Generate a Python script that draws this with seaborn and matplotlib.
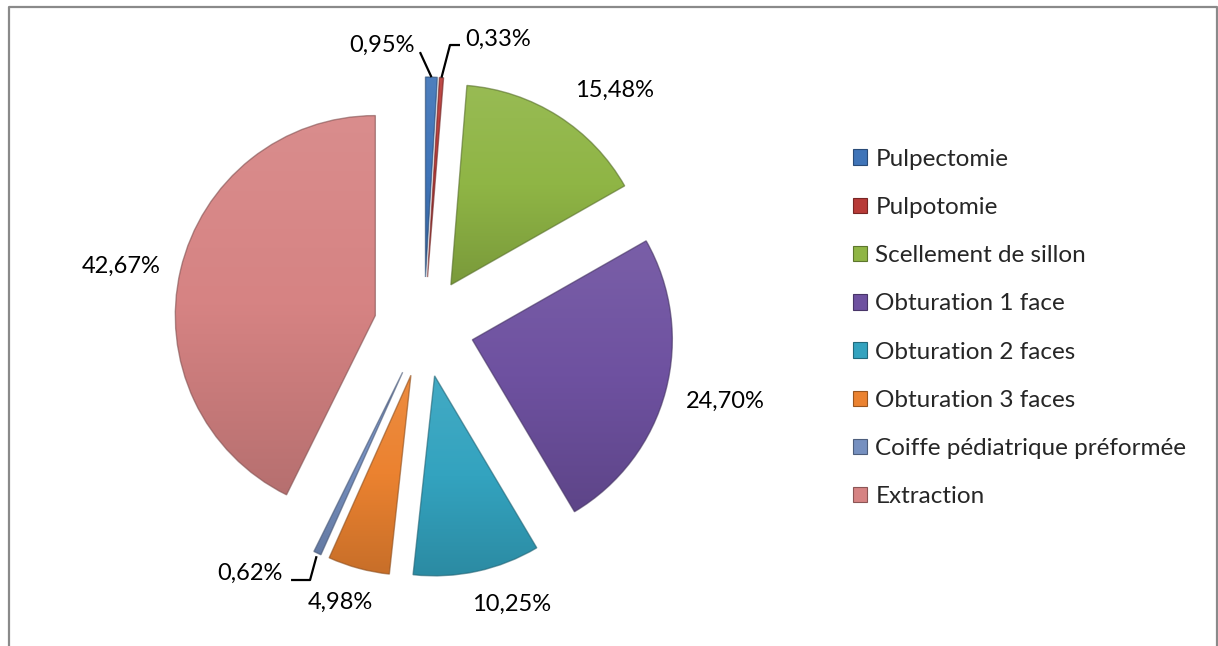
import numpy as np
import matplotlib
matplotlib.use("Agg")
import matplotlib.pyplot as plt
import seaborn as sns
from matplotlib.colors import LinearSegmentedColormap, to_rgb
from matplotlib.patches import Patch
from matplotlib.lines import Line2D

# ---- data ----
categories = ["Pulpectomie", "Pulpotomie", "Scellement de sillon", "Obturation 1 face",
              "Obturation 2 faces", "Obturation 3 faces", "Coiffe pédiatrique préformée",
              "Extraction"]
values = [0.95, 0.33, 15.48, 24.70, 10.25, 4.98, 0.62, 42.67]
value_labels = ["0,95%", "0,33%", "15,48%", "24,70%", "10,25%", "4,98%", "0,62%", "42,67%"]
colors = ["#3F74B8", "#B83B38", "#8FB545", "#6E51A0", "#33A3BF", "#EB8230", "#7690C0", "#D68383"]

sns.set_theme(style="white")
plt.rcParams['font.family'] = ['Lato', 'DejaVu Sans']

W, H = 1218, 646
fig = plt.figure(figsize=(W / 100, H / 100), dpi=100)
ax = fig.add_axes([0, 0, 1, 1])
ax.set_axis_off()

R_PX = 200.0
CX, CY = 424.0, 327.0  # pie centre in pixels (from top-left)
EXPLODE = 0.25

wedges, _ = ax.pie(values, colors=colors, explode=[EXPLODE] * len(values), startangle=90,
                   counterclock=False, radius=1.0,
                   wedgeprops=dict(edgecolor='none', linewidth=0))


def shade(c, f):
    r = np.array(to_rgb(c))
    if f >= 0:
        return tuple(r + (1 - r) * f)
    return tuple(r * (1 + f))


grad = np.linspace(0, 1, 256).reshape(-1, 1)
for w, c in zip(wedges, colors):
    verts = w.get_path().vertices
    x0, y0 = verts.min(axis=0)
    x1, y1 = verts.max(axis=0)
    cmap = LinearSegmentedColormap.from_list("g", [shade(c, -0.15), c, shade(c, 0.08)])
    im = ax.imshow(grad, extent=[x0, x1, y0, y1], origin='lower', cmap=cmap,
                   aspect='auto', zorder=2, interpolation='bilinear')
    im.set_clip_path(w)
    w.set_zorder(3)
    w.set_facecolor('none')
    w.set_edgecolor(shade(c, -0.4))
    w.set_linewidth(1.0)
    w.set_alpha(0.6)

ax.set_xlim(-CX / R_PX, (W - CX) / R_PX)
ax.set_ylim(-(H - CY) / R_PX, CY / R_PX)

# ---- value labels (offsets in pixels from each slice's outer tip) ----
cum = np.cumsum([0] + values[:-1])
mids = [np.deg2rad((c0 + v / 2) / 100 * 360) for c0, v in zip(cum, values)]
tips = [((1 + EXPLODE) * np.sin(a), (1 + EXPLODE) * np.cos(a)) for a in mids]
fs = 17

label_off = {2: (55.8, 19.1), 3: (59.3, -17.1), 4: (34.3, -39.7), 5: (-18.8, -40.6),
             7: (-59.5, -2.8)}
for i, (ox, oy) in label_off.items():
    tx, ty = tips[i]
    ax.text(tx + ox / R_PX, ty + oy / R_PX, value_labels[i], ha='center', va='baseline',
            fontsize=fs, color='black', zorder=5)

# small slices with leader lines
leaders = {
    0: dict(path=[(0, 0), (-11.5, 25)], text=(-16.5, 25), ha='right'),
    1: dict(path=[(0, 0), (8.5, 32.6), (18.5, 32.6)], text=(23.5, 31.6), ha='left'),
    6: dict(path=[(-1, -3), (-7.5, -26.8), (-26.5, -26.8)], text=(-34.5, -26.8), ha='right'),
}
for i, d in leaders.items():
    tx, ty = tips[i]
    xs = [tx + p[0] / R_PX for p in d['path']]
    ys = [ty + p[1] / R_PX for p in d['path']]
    ax.add_line(Line2D(xs, ys, color='black', lw=1.6, zorder=5, solid_capstyle='butt'))
    ax.text(tx + d['text'][0] / R_PX, ty + d['text'][1] / R_PX, value_labels[i],
            ha=d['ha'], va='baseline', fontsize=fs, color='black', zorder=5)

# ---- legend ----
handles = [Patch(facecolor=c, edgecolor=shade(c, -0.35), linewidth=0.8) for c in colors]
leg = fig.legend(handles, categories, loc='upper left', bbox_to_anchor=(843 / W, 1 - 139 / H),
                 frameon=False, fontsize=17.5, handlelength=0.6, handleheight=0.6,
                 handletextpad=0.33, labelspacing=1.12, borderaxespad=0)

# ---- chart border ----
fig.add_artist(Line2D([8.5 / W, 8.5 / W, 1217 / W, 1217 / W],
                      [0, 1 - 6.5 / H, 1 - 6.5 / H, 0],
                      transform=fig.transFigure, color='#8a8a8a', lw=1.6))

fig.savefig("out.png", dpi=100)
